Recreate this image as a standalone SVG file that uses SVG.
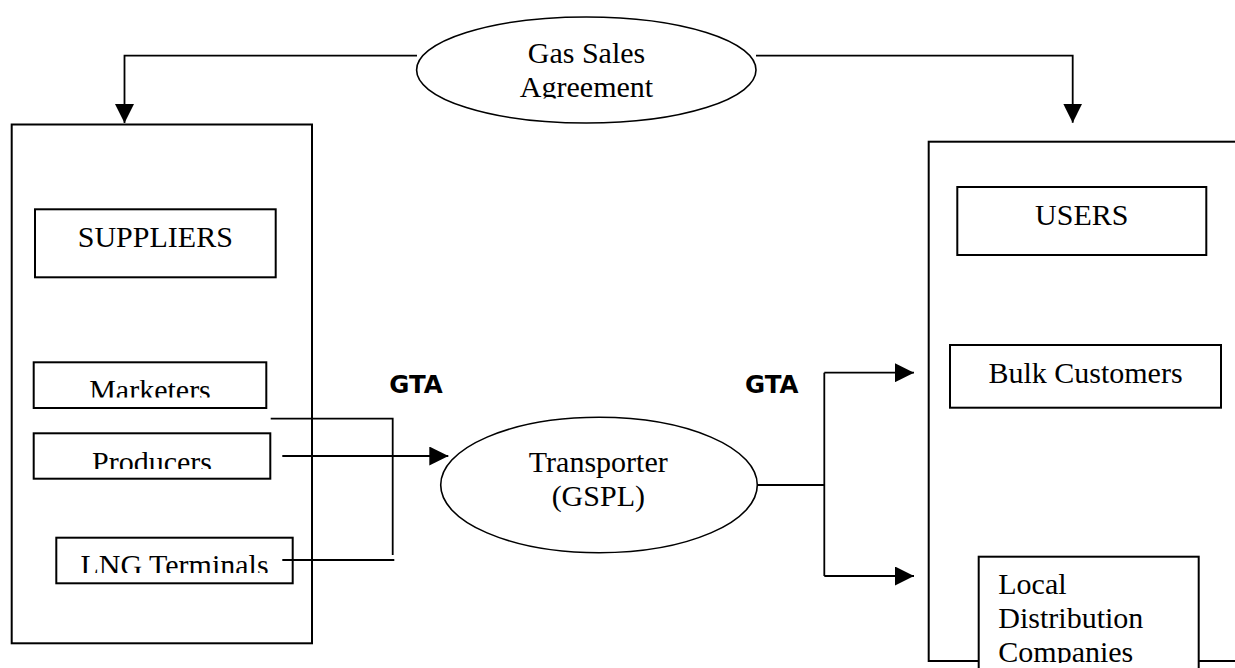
<svg xmlns="http://www.w3.org/2000/svg" width="1235" height="668" viewBox="0 0 1235 668">
  <style>
    .box { fill: #ffffff; stroke: #000000; stroke-width: 2; }
    .frame { fill: none; stroke: #000000; stroke-width: 2; }
    .oval { fill: #ffffff; stroke: #000000; stroke-width: 1.6; }
    .conn { fill: none; stroke: #000000; stroke-width: 1.8; }
    .t { font-family: "Liberation Serif", "Times New Roman", serif; font-size: 30px; fill: #000000; }
    .c { text-anchor: middle; }
    .lbl { font-family: "DejaVu Sans", Verdana, sans-serif; font-weight: bold; font-size: 24.5px; fill: #000000; }
  </style>
  <defs>
    <marker id="arrow" markerUnits="userSpaceOnUse" markerWidth="19" markerHeight="19" refX="19" refY="9.5" orient="auto">
      <path d="M0,0 L19,9.5 L0,19 Z" fill="#000000"/>
    </marker>
    <clipPath id="clipGsa"><rect x="400" y="0" width="380" height="98.5"/></clipPath>
    <clipPath id="clipMkt"><rect x="30" y="360" width="240" height="37.5"/></clipPath>
    <clipPath id="clipPrd"><rect x="30" y="430" width="245" height="39"/></clipPath>
    <clipPath id="clipLng"><rect x="55" y="535" width="240" height="38"/></clipPath>
    <clipPath id="clipLdc"><rect x="975" y="550" width="230" height="113"/></clipPath>
  </defs>
  <rect width="1235" height="668" fill="#ffffff"/>

  <g id="suppliers-group">
    <rect class="frame" x="11.7" y="124.5" width="300.3" height="518.8"/>
  </g>
  <g id="suppliers">
    <rect class="box" x="35" y="209.3" width="240.7" height="68"/>
    <text class="t c" x="155.3" y="246.7">SUPPLIERS</text>
  </g>
  <g id="marketers">
    <rect class="box" x="33.7" y="362.3" width="232.6" height="45.7"/>
    <text class="t c" x="150" y="400" clip-path="url(#clipMkt)">Marketers</text>
  </g>
  <g id="producers">
    <rect class="box" x="33.7" y="433.3" width="236.6" height="45.4"/>
    <text class="t c" x="152" y="471.7" clip-path="url(#clipPrd)">Producers</text>
  </g>
  <g id="lng-terminals">
    <rect class="box" x="56.3" y="537.7" width="236.4" height="45.6"/>
    <text class="t c" x="174.5" y="575" clip-path="url(#clipLng)">LNG Terminals</text>
  </g>

  <g id="users-group">
    <rect class="frame" x="928.7" y="141.7" width="330" height="519.3"/>
  </g>
  <g id="users">
    <rect class="box" x="957.3" y="187" width="249" height="68"/>
    <text class="t c" x="1081.8" y="225">USERS</text>
  </g>
  <g id="bulk-customers">
    <rect class="box" x="950" y="345" width="271" height="62.7"/>
    <text class="t c" x="1085.5" y="382.7">Bulk Customers</text>
  </g>
  <g id="local-distribution-companies">
    <rect class="box" x="978.7" y="556.7" width="220" height="130"/>
    <text class="t" x="998.3" y="594.3" clip-path="url(#clipLdc)">Local</text>
    <text class="t" x="998.3" y="628.3" clip-path="url(#clipLdc)">Distribution</text>
    <text class="t" x="998.3" y="662.3" clip-path="url(#clipLdc)">Companies</text>
  </g>

  <g id="gas-sales-agreement">
    <ellipse class="oval" cx="586.3" cy="70" rx="169.7" ry="53"/>
    <text class="t c" x="586.5" y="63.3">Gas Sales</text>
    <text class="t c" x="586.5" y="97.3" clip-path="url(#clipGsa)">Agreement</text>
  </g>

  <g id="transporter">
    <ellipse class="oval" cx="599" cy="485" rx="158.3" ry="67.7"/>
    <text class="t c" x="598.3" y="472.3">Transporter</text>
    <text class="t c" x="598.3" y="505.5">(GSPL)</text>
  </g>

  <g id="connectors">
    <path class="conn" d="M417,55.7 H124.5 V123" marker-end="url(#arrow)"/>
    <path class="conn" d="M756,55.7 H1072.7 V122.7" marker-end="url(#arrow)"/>
    <path class="conn" d="M270.7,418.7 H392.7 V555"/>
    <path class="conn" d="M282.3,560 H394.3"/>
    <path class="conn" d="M282.3,456 H448.3" marker-end="url(#arrow)"/>
    <path class="conn" d="M757.3,485 H824.3"/>
    <path class="conn" d="M824.3,372.7 V576"/>
    <path class="conn" d="M824.3,372.7 H914" marker-end="url(#arrow)"/>
    <path class="conn" d="M824.3,576 H914" marker-end="url(#arrow)"/>
  </g>

  <g id="labels">
    <text class="lbl" x="389.3" y="393.3">GTA</text>
    <text class="lbl" x="745" y="393.3">GTA</text>
  </g>
</svg>
